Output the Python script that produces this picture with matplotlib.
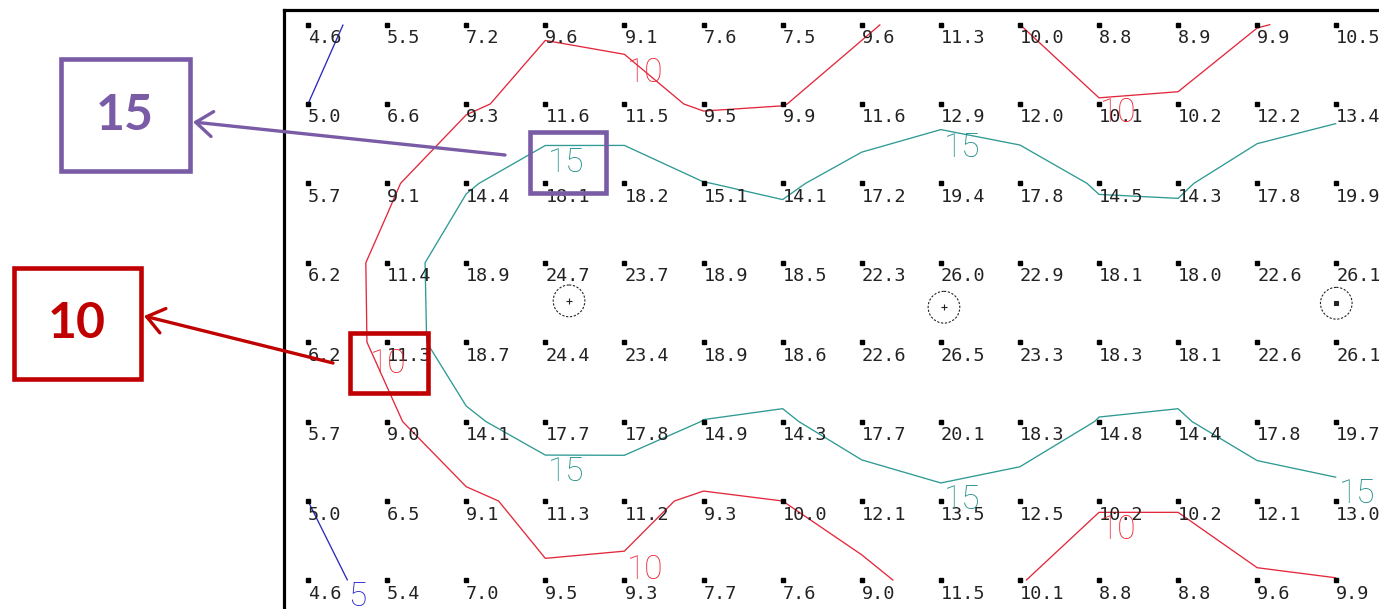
import numpy as np
import matplotlib
matplotlib.use('Agg')
import matplotlib.pyplot as plt
from matplotlib.patches import Rectangle, Circle, FancyArrowPatch

# station values, row by row (top to bottom), 14 columns each
row0 = [4.6, 5.5, 7.2, 9.6, 9.1, 7.6, 7.5, 9.6, 11.3, 10.0, 8.8, 8.9, 9.9, 10.5]
row1 = [5.0, 6.6, 9.3, 11.6, 11.5, 9.5, 9.9, 11.6, 12.9, 12.0, 10.1, 10.2, 12.2, 13.4]
row2 = [5.7, 9.1, 14.4, 18.1, 18.2, 15.1, 14.1, 17.2, 19.4, 17.8, 14.5, 14.3, 17.8, 19.9]
row3 = [6.2, 11.4, 18.9, 24.7, 23.7, 18.9, 18.5, 22.3, 26.0, 22.9, 18.1, 18.0, 22.6, 26.1]
row4 = [6.2, 11.3, 18.7, 24.4, 23.4, 18.9, 18.6, 22.6, 26.5, 23.3, 18.3, 18.1, 22.6, 26.1]
row5 = [5.7, 9.0, 14.1, 17.7, 17.8, 14.9, 14.3, 17.7, 20.1, 18.3, 14.8, 14.4, 17.8, 19.7]
row6 = [5.0, 6.5, 9.1, 11.3, 11.2, 9.3, 10.0, 12.1, 13.5, 12.5, 10.2, 10.2, 12.1, 13.0]
row7 = [4.6, 5.4, 7.0, 9.5, 9.3, 7.7, 7.6, 9.0, 11.5, 10.1, 8.8, 8.8, 9.6, 9.9]

levels = [5, 10, 15]
level_colors = ['#2a2ac0', '#e3283c', '#2e9a94']
label_colors = ['#2222cc', '#ec2632', '#1d8d86']

# where each contour value is written (level, column, row)
contour_labels = [
    (10, 4.26, 0.61), (10, 10.24, 1.11), (15, 3.26, 1.74), (15, 8.27, 1.56),
    (15, 3.26, 5.64), (15, 8.27, 5.99), (15, 13.27, 5.91), (10, 4.26, 6.87),
    (10, 10.24, 6.37), (10, 1.01, 4.27), (5, 0.62, 7.21),
]

# local maxima (column, row, centre symbol)
peaks = [(3.3, 3.48, '+'), (8.04, 3.56, '+'), (13.0, 3.51, 's')]

Z = np.array([row0, row1, row2, row3, row4, row5, row6, row7])
n_rows, n_cols = Z.shape
X, Y = np.meshgrid(np.arange(n_cols), np.arange(n_rows))

W, H = 1379, 609
fig = plt.figure(figsize=(W / 100, H / 100), dpi=100)
fig.patch.set_facecolor('white')


def px(x, y):
    return (x / W, 1 - y / H)


ax = fig.add_axes([283.5 / W, 0, 1 - 283.5 / W, 1 - 10 / H])
ax.set_xlim(-0.31, 13.54)
ax.set_ylim(7.36, -0.183)
ax.set_xticks([])
ax.set_yticks([])
for side in ['right', 'bottom']:
    ax.spines[side].set_visible(False)
for side in ['left', 'top']:
    ax.spines[side].set_linewidth(2.3)
    ax.spines[side].set_color('black')

ax.contour(X, Y, Z, levels=levels, colors=level_colors, linewidths=0.95)

ax.plot(X.ravel(), Y.ravel(), 's', color='black', markersize=3, linestyle='none')
for r in range(n_rows):
    for c in range(n_cols):
        ax.annotate(f'{Z[r, c]:.1f}', (c, r), xytext=(0, -18.5),
                    textcoords='offset pixels', ha='left', va='baseline',
                    fontsize=13.3, family='DejaVu Sans Mono', color='#222222')

for lev, c, r in contour_labels:
    ax.text(c, r, str(lev), ha='center', va='center', fontsize=24,
            family=['Roboto', 'DejaVu Sans'], fontweight='light',
            color=label_colors[levels.index(lev)])

for c, r, sym in peaks:
    ax.add_patch(Circle((c, r), 0.2, fill=False, edgecolor='#222222',
                        linewidth=0.8, linestyle=(0, (2, 1.5))))
    ax.plot(c, r, sym, color='#222222', markersize=4 if sym == '+' else 2.5,
            markeredgewidth=0.8)

# callout boxes with arrows
callouts = [
    ('15', '#7a5ba6', (60.5, 59, 189.5, 171), (530, 132, 606, 193), (505, 155), (193, 122)),
    ('10', '#c00000', (13.5, 267.5, 140.5, 378.5), (350, 333, 428, 393), (333, 363), (144, 316)),
]
for txt, col, big, small, start, end in callouts:
    for x0, y0, x1, y1 in (big, small):
        fig.add_artist(Rectangle(px(x0, y1), (x1 - x0) / W, (y1 - y0) / H,
                                 transform=fig.transFigure, fill=False,
                                 edgecolor=col, linewidth=3.3, zorder=5))
    cx, cy = (big[0] + big[2]) / 2, (big[1] + big[3]) / 2
    fig.text(*px(cx, cy + 1), txt, ha='center', va='center', fontsize=36,
             family=['Lato', 'DejaVu Sans'], fontweight='bold', color=col, zorder=6)
    fig.add_artist(FancyArrowPatch(px(*start), px(*end), transform=fig.transFigure,
                                   arrowstyle='->,head_length=0.6,head_width=0.45',
                                   mutation_scale=20, color=col, linewidth=2.4,
                                   shrinkA=0, shrinkB=0, zorder=5))

fig.savefig('out.png', dpi=100)
